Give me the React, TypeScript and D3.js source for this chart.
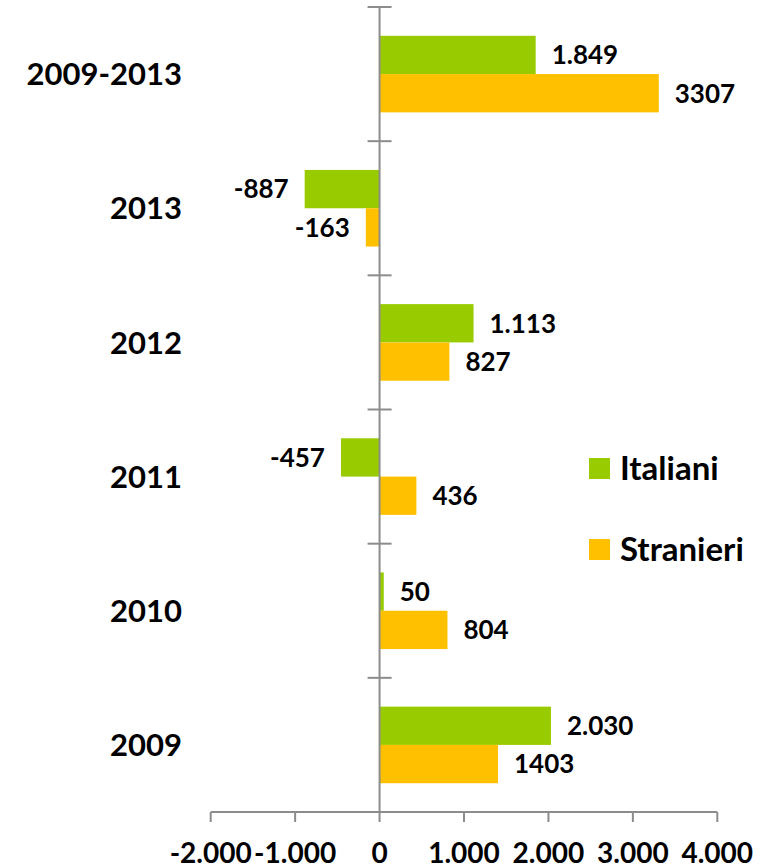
import React from "react";
import * as d3 from "d3";

// Categories top to bottom
const categories = ["2009-2013", "2013", "2012", "2011", "2010", "2009"];
const series = ["Italiani", "Stranieri"];
const italiani = [1849, -887, 1113, -457, 50, 2030];
const stranieri = [3307, -163, 827, 436, 804, 1403];
const italianiLabels = ["1.849", "-887", "1.113", "-457", "50", "2.030"];
const stranieriLabels = ["3307", "-163", "827", "436", "804", "1403"];
const xTicks = [-2000, -1000, 0, 1000, 2000, 3000, 4000];
const xTickLabels = ["-2.000", "-1.000", "0", "1.000", "2.000", "3.000", "4.000"];
const colors = ["#99CC00", "#FFC000"];

const W = 771;
const H = 866;
const FONT = "Lato, 'Open Sans', sans-serif";
const AXIS = "#8c8c8c";

export default function App() {
  const x = d3.scaleLinear().domain([-2000, 4000]).range([210.7, 717.3]);
  const y = d3.scaleBand<string>().domain(categories).range([7, 812]).padding(0);
  const inner = d3
    .scaleBand<string>()
    .domain(series)
    .range([0, y.bandwidth()])
    .paddingInner(0)
    .paddingOuter(0.752);
  const x0 = x(0);
  const values = [italiani, stranieri];
  const labels = [italianiLabels, stranieriLabels];
  const bandEdges = categories.map((c) => y(c) as number);

  return (
    <svg
      width={W}
      height={H}
      style={{ position: "absolute", left: 0, top: 0, background: "#fff" }}
      fontFamily={FONT}
    >
      {/* bars */}
      {series.map((s, si) =>
        categories.map((c, ci) => {
          const v = values[si][ci];
          const by = (y(c) as number) + (inner(s) as number);
          return (
            <rect
              key={s + c}
              x={Math.min(x(v), x0)}
              y={by}
              width={Math.abs(x(v) - x0)}
              height={inner.bandwidth()}
              fill={colors[si]}
            />
          );
        })
      )}
      {/* vertical axis */}
      <line x1={x0} x2={x0} y1={7} y2={812} stroke={AXIS} strokeWidth={2} />
      {bandEdges.map((e, i) => (
        <line key={i} x1={x0 - 12} x2={x0 + 12} y1={e} y2={e} stroke={AXIS} strokeWidth={2} />
      ))}
      {/* horizontal axis */}
      <line x1={x(-2000)} x2={x(4000)} y1={812} y2={812} stroke={AXIS} strokeWidth={2} />
      {xTicks.map((t, i) => (
        <g key={t}>
          <line x1={x(t)} x2={x(t)} y1={812} y2={822} stroke={AXIS} strokeWidth={2} />
          <text
            x={x(t)}
            y={852.5}
            dy="0.36em"
            textAnchor="middle"
            fontSize={28}
            fontWeight="bold"
            fill="#000"
          >
            {xTickLabels[i]}
          </text>
        </g>
      ))}
      {/* category labels */}
      {categories.map((c) => (
        <text
          key={c}
          x={182}
          y={(y(c) as number) + y.bandwidth() / 2}
          dy="0.36em"
          textAnchor="end"
          fontSize={31}
          fontWeight="bold"
          fill="#000"
        >
          {c}
        </text>
      ))}
      {/* data labels */}
      {series.map((s, si) =>
        categories.map((c, ci) => {
          const v = values[si][ci];
          const cy = (y(c) as number) + (inner(s) as number) + inner.bandwidth() / 2;
          const neg = v < 0;
          return (
            <text
              key={"l" + s + c}
              x={neg ? x(v) - 16 : x(v) + 16}
              y={cy}
              dy="0.36em"
              textAnchor={neg ? "end" : "start"}
              fontSize={26}
              fontWeight="bold"
              fill="#000"
            >
              {labels[si][ci]}
            </text>
          );
        })
      )}
      {/* legend */}
      {series.map((s, si) => (
        <g key={"lg" + s} transform={`translate(589, ${458 + si * 81})`}>
          <rect x={0} y={0} width={21} height={21} fill={colors[si]} />
          <text x={31} y={10.5} dy="0.36em" fontSize={33} fontWeight="bold" fill="#000">
            {s}
          </text>
        </g>
      ))}
    </svg>
  );
}
